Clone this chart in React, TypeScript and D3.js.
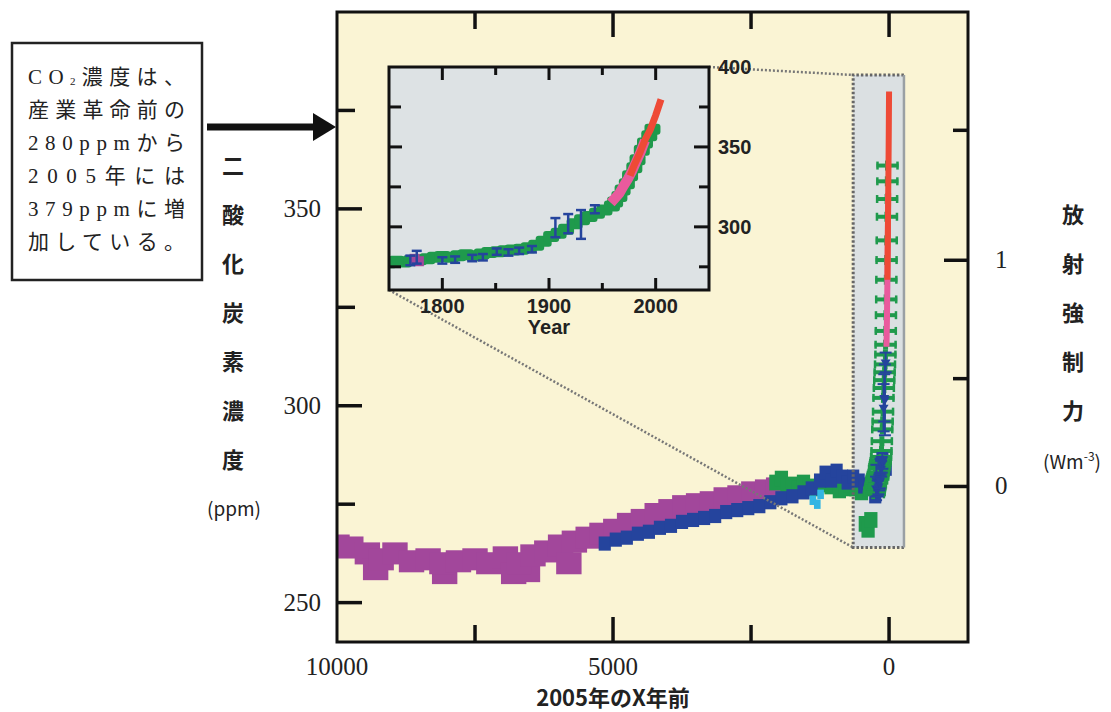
import React from 'react'
import * as d3 from 'd3'

const W = 1111
const H = 712

// main panel: [years before 2005, ppm]
const purpleIce: [number, number][] = [
  [10000, 264.5], [9750, 264], [9450, 262.5], [9300, 258.5], [9200, 261], [8950, 262.5],
  [8650, 260.5], [8350, 261], [8050, 257.5], [8100, 260], [7800, 260.5], [7500, 261],
  [7250, 260], [6950, 261.5], [6800, 257.5], [6550, 258], [6700, 260], [6450, 262],
  [6200, 263], [5950, 264.5], [5800, 260], [5700, 265.5], [5450, 266.5], [5200, 267.5],
  [4950, 268.5], [4700, 270], [4450, 271], [4200, 272.5], [3950, 273.5], [3700, 274.5],
  [3450, 275], [3200, 275.5], [2950, 276.5], [2700, 277], [2450, 278], [2200, 278.5], [2000, 279],
]
const greenIce: [number, number][] = [
  [2050, 280.5], [1950, 281.5], [1850, 279.5], [1750, 280], [1650, 279], [1550, 280.5],
  [1450, 279.5], [1350, 279], [1200, 280], [1050, 279.5], [900, 278.5], [800, 279],
  [700, 280], [600, 279], [500, 278], [430, 270], [380, 268.5], [330, 271],
]
const blueIce: [number, number][] = [
  [5150, 265], [4950, 266], [4750, 266.5], [4550, 267.5], [4350, 268], [4150, 269],
  [3950, 269.5], [3750, 270.5], [3550, 271], [3350, 271.5], [3150, 272], [2950, 273],
  [2750, 273.5], [2550, 274], [2350, 274.5], [2150, 275.5], [1950, 276.5], [1750, 277],
  [1550, 278], [1400, 279], [1250, 281], [1150, 283], [1050, 281], [950, 283.5],
  [850, 282], [750, 280.5], [650, 282], [550, 281], [450, 279.5], [350, 280],
  [250, 277], [180, 283], [120, 286], [60, 284],
]
const cyanIce: [number, number][] = [[1380, 276], [1300, 275], [1240, 277.5]]

// inset: [calendar year, ppm]
const insetGreen: [number, number][] = [
  [1750, 277.5], [1757, 278.5], [1764, 278], [1771, 279], [1778, 279.5], [1786, 280],
  [1793, 281], [1800, 281.5], [1808, 281], [1815, 282], [1822, 282.5], [1830, 282],
  [1837, 283], [1844, 284], [1852, 284.5], [1859, 285], [1866, 285.5], [1874, 286],
  [1881, 287], [1888, 288.5], [1895, 291], [1902, 294], [1909, 296], [1916, 298.5],
  [1924, 302], [1931, 304.5], [1938, 306.5], [1945, 308.5], [1952, 310.5], [1959, 313],
  [1962, 315.5], [1966, 319], [1969, 323], [1973, 327], [1976, 332], [1980, 337],
  [1983, 342], [1987, 348], [1990, 352.5], [1994, 357], [1997, 361],
]
// [year, ppm, uncertainty]
const insetBlue: [number, number, number][] = [
  [1770, 279, 3], [1776, 281, 4], [1800, 279, 2], [1812, 279.5, 2], [1828, 280.5, 2],
  [1838, 281, 2], [1851, 284.5, 2], [1862, 284, 2], [1872, 285, 2], [1884, 286, 2],
  [1906, 299.5, 6], [1918, 302, 6], [1930, 301.5, 9], [1943, 311, 2.5],
]
const insetMagenta: [number, number][] = [[1774, 280], [1778, 278.5]]
const pinkAir: [number, number][] = [
  [1958, 315], [1962, 318], [1966, 321], [1970, 325.7], [1974, 330], [1978, 335],
  [1982, 341], [1986, 347], [1990, 354],
]
const redAir: [number, number][] = [
  [1976, 332], [1980, 338.7], [1985, 346], [1990, 354.4], [1995, 360.9], [2000, 369.7], [2005, 379.8],
]

const xTicks = [10000, 5000, 0]
const xMinorTicks = [7500, 2500]
const yTicks = [250, 300, 350]
const yMinorTicks = [275, 325, 375]
const forcingTicks = [0, 1]
const forcingMinorTicks = [0.5, 1.5]
const insetXTicks = [1800, 1900, 2000]
const insetXMinorTicks = [1850, 1950]
const insetYLabels = [400, 350, 300]
const insetYMajor = [350, 300]
const insetYMinor = [375, 325, 275]
const zoomAges = [650, -270]
const zoomPpm = [264, 384]

const yTitle = ['二', '酸', '化', '炭', '素', '濃', '度']
const rTitle = ['放', '射', '強', '制', '力']
const noteLines = ['CO₂濃度は、', '産業革命前の', '280ppmから', '2005年には', '379ppmに増', '加している。']

const serif = '"Liberation Serif", "Noto Sans CJK JP", serif'
const gothic = '"Noto Sans CJK JP", sans-serif'
const helv = '"Liberation Sans", Arial, sans-serif'

const C_PURPLE = '#a2479b'
const C_BLUE = '#25449d'
const C_GREEN = '#1f9a4c'
const C_CYAN = '#33b5e3'
const C_PINK = '#e95a9d'
const C_RED = '#ee4a36'

export default function App() {
  const x = d3.scaleLinear().domain([10000, -1430]).range([337, 968])
  const y = d3.scaleLinear().domain([240, 400]).range([642, 12])
  const ix = d3.scaleLinear().domain([1750, 2050]).range([389, 709])
  const iy = d3.scaleLinear().domain([260.5, 400]).range([290, 67])
  const C0 = 279.5
  const yF = (f: number) => y(C0 * Math.exp(f / 5.35))
  const age = (yr: number) => 2005 - yr

  const [L, R] = x.range()
  const [B, T] = y.range()
  const [iL, iR] = ix.range()
  const [iB, iT] = iy.range()

  const mainLine = d3.line<[number, number]>().x(d => x(age(d[0]))).y(d => y(d[1]))
  const insetLine = d3.line<[number, number]>().x(d => ix(d[0])).y(d => iy(d[1]))

  const blocks = (data: [number, number][], dx: number, dy: number, color: string) =>
    data.map((d, i) => (
      <rect key={i} x={x(d[0] + dx)} y={y(d[1] + dy)}
        width={x(d[0] - dx) - x(d[0] + dx)} height={y(d[1] - dy) - y(d[1] + dy)} fill={color} />
    ))

  const boxX0 = x(zoomAges[0]), boxX1 = x(zoomAges[1])
  const boxY0 = y(zoomPpm[1]), boxY1 = y(zoomPpm[0])

  return (
    <svg width={W} height={H} style={{ position: 'absolute', left: 0, top: 0, background: '#fff' }}>
      <defs>
        <clipPath id="mainClip"><rect x={L} y={T} width={R - L} height={B - T} /></clipPath>
        <clipPath id="insetClip"><rect x={iL} y={iT} width={iR - iL} height={iB - iT} /></clipPath>
      </defs>

      {/* main panel */}
      <rect x={L} y={T} width={R - L} height={B - T} fill="#faf4d4" />
      <rect x={boxX0} y={boxY0} width={boxX1 - boxX0} height={boxY1 - boxY0} fill="#dbe0e2" />

      <g clipPath="url(#mainClip)">
        {blocks(purpleIce, 230, 2.8, C_PURPLE)}
        {blocks(greenIce, 120, 2, C_GREEN)}
        {blocks(blueIce, 110, 1.8, C_BLUE)}
        {blocks(cyanIce, 60, 1.2, C_CYAN)}
        {insetGreen.map((d, i) => {
          const cx = x(age(d[0]) + 20)
          return (
            <g key={'g' + i} stroke={C_GREEN} strokeWidth={4}>
              <line x1={cx - 11} x2={cx + 11} y1={y(d[1])} y2={y(d[1])} />
              <line x1={cx - 10} x2={cx - 10} y1={y(d[1]) - 4} y2={y(d[1]) + 4} strokeWidth={2.5} />
              <line x1={cx + 10} x2={cx + 10} y1={y(d[1]) - 4} y2={y(d[1]) + 4} strokeWidth={2.5} />
              <line x1={cx} x2={cx} y1={y(d[1]) - 5} y2={y(d[1]) + 5} strokeWidth={5} />
            </g>
          )
        })}
        {insetBlue.map((d, i) => {
          const cx = x(age(d[0]))
          return (
            <g key={'b' + i} stroke={C_BLUE} strokeWidth={2}>
              <line x1={cx} x2={cx} y1={y(d[1] + d[2])} y2={y(d[1] - d[2])} />
              <line x1={cx - 6} x2={cx + 6} y1={y(d[1] + d[2])} y2={y(d[1] + d[2])} />
              <line x1={cx - 6} x2={cx + 6} y1={y(d[1] - d[2])} y2={y(d[1] - d[2])} />
              <path d={`M${cx - 5},${y(d[1]) - 3}L${cx + 5},${y(d[1]) - 3}L${cx},${y(d[1]) + 5}Z`} fill={C_BLUE} stroke="none" />
            </g>
          )
        })}
        <path d={mainLine(pinkAir) || ''} stroke={C_PINK} strokeWidth={6} fill="none" />
        <path d={mainLine(redAir) || ''} stroke={C_RED} strokeWidth={6} fill="none" />
      </g>

      {/* zoom box and connectors */}
      <g stroke="#777" strokeWidth={2.5} strokeDasharray="2,2" fill="none">
        <line x1={iR} y1={iT} x2={boxX0} y2={boxY0} />
        <line x1={iL} y1={iB} x2={boxX0} y2={boxY1} />
      </g>
      <g fill="none">
        <path d={`M${boxX1},${boxY1}L${boxX0},${boxY1}L${boxX0},${boxY0}L${boxX1},${boxY0}`}
          stroke="#666" strokeWidth={3} strokeDasharray="2.5,2" />
        <line x1={boxX1} x2={boxX1} y1={boxY0} y2={boxY1} stroke="#9aa0a4" strokeWidth={2.5} />
      </g>

      {/* main frame and ticks */}
      <rect x={L} y={T} width={R - L} height={B - T} fill="none" stroke="#111" strokeWidth={3} />
      <g stroke="#111" strokeWidth={3.5}>
        {xTicks.filter(t => x(t) > L + 2).map(t => (
          <g key={'xt' + t}>
            <line x1={x(t)} x2={x(t)} y1={B} y2={B - 25} />
            <line x1={x(t)} x2={x(t)} y1={T} y2={T + 25} />
          </g>
        ))}
        {xMinorTicks.map(t => (
          <g key={'xm' + t}>
            <line x1={x(t)} x2={x(t)} y1={B} y2={B - 17} />
            <line x1={x(t)} x2={x(t)} y1={T} y2={T + 17} />
          </g>
        ))}
        {yTicks.map(t => <line key={'yt' + t} x1={L} x2={L + 25} y1={y(t)} y2={y(t)} />)}
        {yMinorTicks.map(t => <line key={'ym' + t} x1={L} x2={L + 18} y1={y(t)} y2={y(t)} />)}
        {forcingTicks.map(t => <line key={'ft' + t} x1={R} x2={R - 24} y1={yF(t)} y2={yF(t)} />)}
        {forcingMinorTicks.map(t => <line key={'fm' + t} x1={R} x2={R - 15} y1={yF(t)} y2={yF(t)} />)}
      </g>

      {/* main tick labels */}
      <g fontFamily={serif} fontSize={25} fill="#222">
        {xTicks.map(t => <text key={'xl' + t} x={x(t)} y={675} textAnchor="middle">{t}</text>)}
        {yTicks.map(t => <text key={'yl' + t} x={321} y={y(t) + 8} textAnchor="end">{t}</text>)}
        {forcingTicks.map(t => <text key={'fl' + t} x={995} y={yF(t) + 8}>{t}</text>)}
      </g>

      {/* axis titles */}
      <text x={x(5000)} y={706} textAnchor="middle" fontFamily={gothic} fontWeight={700} fontSize={22} fill="#222">2005年のX年前</text>
      <g fontFamily={gothic} fontWeight={700} fontSize={22} fill="#222" textAnchor="middle">
        {yTitle.map((c, i) => <text key={'yc' + i} x={233} y={174 + i * 49}>{c}</text>)}
        {rTitle.map((c, i) => <text key={'rc' + i} x={1073} y={223 + i * 49}>{c}</text>)}
      </g>
      <text x={234} y={516} textAnchor="middle" fontFamily={gothic} fontSize={19} fill="#222">(ppm)</text>
      <text x={1072} y={469} textAnchor="middle" fontFamily={gothic} fontSize={19} fill="#222">
        (Wm<tspan fontSize={12} dy={-8}>-3</tspan><tspan dy={8}>)</tspan>
      </text>

      {/* inset */}
      <rect x={iL} y={iT} width={iR - iL} height={iB - iT} fill="#dde2e4" />
      <g clipPath="url(#insetClip)">
        {insetGreen.map((d, i) => (
          <rect key={'ig' + i} x={ix(d[0]) - 8} y={iy(d[1]) - 5.5} width={16} height={11} rx={3} fill={C_GREEN} />
        ))}
        {insetMagenta.map((d, i) => (
          <rect key={'im' + i} x={ix(d[0]) - 5} y={iy(d[1]) - 5} width={10} height={10} fill={C_PURPLE} />
        ))}
        {insetBlue.map((d, i) => {
          const cx = ix(d[0])
          return (
            <g key={'ib' + i} stroke={C_BLUE} strokeWidth={2.5}>
              <line x1={cx} x2={cx} y1={iy(d[1] + d[2])} y2={iy(d[1] - d[2])} />
              <line x1={cx - 5} x2={cx + 5} y1={iy(d[1] + d[2])} y2={iy(d[1] + d[2])} />
              <line x1={cx - 5} x2={cx + 5} y1={iy(d[1] - d[2])} y2={iy(d[1] - d[2])} />
            </g>
          )
        })}
        <path d={insetLine(pinkAir) || ''} stroke={C_PINK} strokeWidth={10} fill="none" />
        <path d={insetLine(redAir) || ''} stroke={C_RED} strokeWidth={7} fill="none" />
      </g>
      <rect x={iL} y={iT} width={iR - iL} height={iB - iT} fill="none" stroke="#111" strokeWidth={3} />
      <g stroke="#111" strokeWidth={3}>
        {insetXTicks.map(t => (
          <g key={'ixt' + t}>
            <line x1={ix(t)} x2={ix(t)} y1={iB} y2={iB - 12} />
            <line x1={ix(t)} x2={ix(t)} y1={iT} y2={iT + 13} />
          </g>
        ))}
        {insetXMinorTicks.map(t => (
          <g key={'ixm' + t}>
            <line x1={ix(t)} x2={ix(t)} y1={iB} y2={iB - 7} />
            <line x1={ix(t)} x2={ix(t)} y1={iT} y2={iT + 8} />
          </g>
        ))}
        {insetYMajor.map(t => (
          <g key={'iyt' + t}>
            <line x1={iL} x2={iL + 13} y1={iy(t)} y2={iy(t)} />
            <line x1={iR} x2={iR - 15} y1={iy(t)} y2={iy(t)} />
          </g>
        ))}
        {insetYMinor.map(t => (
          <g key={'iym' + t}>
            <line x1={iL} x2={iL + 12} y1={iy(t)} y2={iy(t)} />
            <line x1={iR} x2={iR - 10} y1={iy(t)} y2={iy(t)} />
          </g>
        ))}
      </g>
      <g fontFamily={helv} fontWeight={700} fontSize={20} fill="#222">
        {insetXTicks.map(t => <text key={'ixl' + t} x={ix(t)} y={313} textAnchor="middle">{t}</text>)}
        <text x={ix(1900)} y={334} textAnchor="middle">Year</text>
        {insetYLabels.map(t => <text key={'iyl' + t} x={iR + 9} y={iy(t) + 7}>{t}</text>)}
      </g>

      {/* note box and arrow */}
      <rect x={12} y={43} width={190} height={237} fill="#fff" stroke="#222" strokeWidth={2.5} />
      <g fontFamily={serif} fontSize={21} fill="#222">
        {noteLines.map((s, i) => {
          const yy = 84 + i * 33
          if (s.includes('₂')) {
            const [a, b] = s.split('₂')
            return (
              <text key={'n' + i} x={28} y={yy} textLength={157} lengthAdjust="spacing">
                {a}<tspan fontSize={11} dy={1}>2</tspan><tspan dy={-1}>{b}</tspan>
              </text>
            )
          }
          return <text key={'n' + i} x={28} y={yy} textLength={157} lengthAdjust="spacing">{s}</text>
        })}
      </g>
      <line x1={207} x2={316} y1={127} y2={127} stroke="#111" strokeWidth={7} />
      <polygon points="313,113 336,127 313,141" fill="#111" />
    </svg>
  )
}
